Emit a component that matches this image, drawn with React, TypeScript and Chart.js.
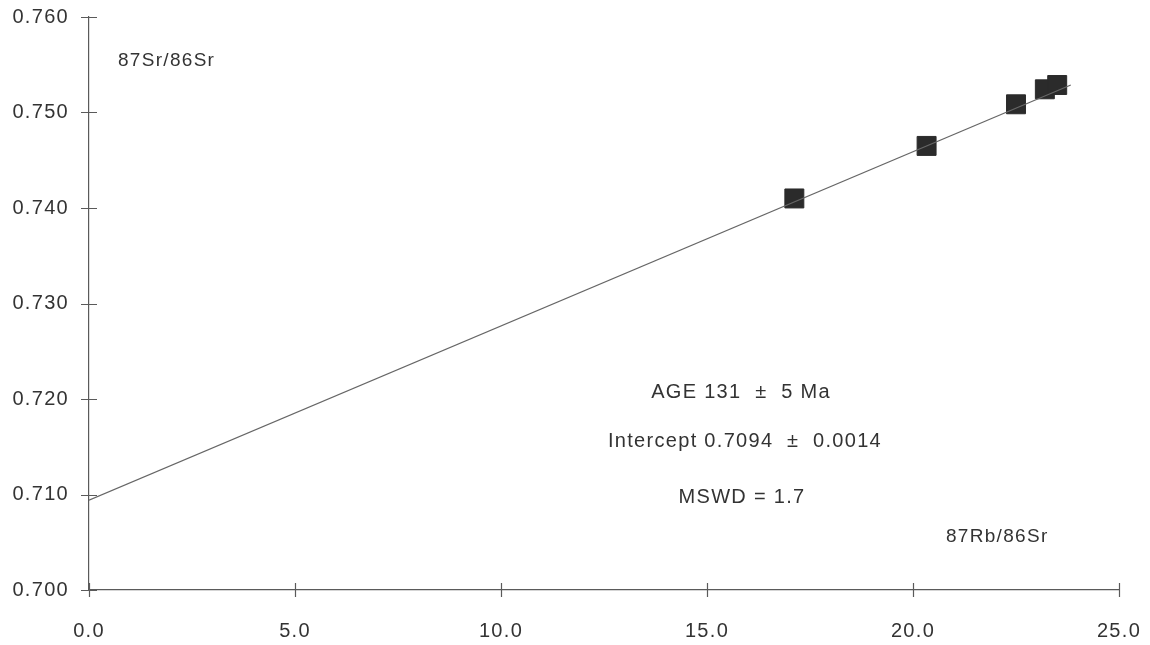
import React, { useEffect, useRef } from "react";
import { Chart, registerables } from "chart.js";

Chart.register(...registerables);

// Rb-Sr isochron samples
const rbSr: number[] = [17.12, 20.33, 22.5, 23.2, 23.5];
const srSr: number[] = [0.741, 0.7465, 0.75086, 0.75243, 0.75288];

// regression line end points
const lineX: number[] = [0, 23.83];
const lineY: number[] = [0.7094, 0.75288];

const xTicks: number[] = [0, 5, 10, 15, 20, 25];
const yTicks: number[] = [0.7, 0.71, 0.72, 0.73, 0.74, 0.75, 0.76];

const ageText = "AGE 131  \u00b1  5 Ma";
const interceptText = "Intercept 0.7094  \u00b1  0.0014";
const mswdText = "MSWD = 1.7";
const yTitle = "87Sr/86Sr";
const xTitle = "87Rb/86Sr";

const FONT = "'Liberation Sans', Arial, Helvetica, sans-serif";
const TEXT = "#333333";
const AXIS = "#5a5a5a";

// wider tracking for all canvas text
const spacing = {
  id: "spacing",
  beforeDraw(chart: any) {
    chart.ctx.letterSpacing = "1.3px";
  },
};

const noScalePadding = (s: any) => {
  s.paddingTop = 0;
  s.paddingBottom = 0;
  s.paddingLeft = 0;
  s.paddingRight = 0;
};

const crossTicks = {
  id: "crossTicks",
  afterDraw(chart: any) {
    const { ctx, chartArea, scales } = chart;
    const xs = scales.x;
    const ys = scales.y;
    ctx.save();
    ctx.strokeStyle = AXIS;
    ctx.lineWidth = 1.2;
    ctx.beginPath();
    xTicks.forEach((v) => {
      const px = Math.round(xs.getPixelForValue(v)) + 0.5;
      ctx.moveTo(px, chartArea.bottom - 7);
      ctx.lineTo(px, chartArea.bottom + 7);
    });
    yTicks.forEach((v) => {
      const py = Math.round(ys.getPixelForValue(v)) + 0.5;
      ctx.moveTo(chartArea.left - 8, py);
      ctx.lineTo(chartArea.left + 8, py);
    });
    ctx.stroke();

    ctx.fillStyle = TEXT;
    ctx.letterSpacing = "1.3px";
    ctx.textBaseline = "middle";
    ctx.textAlign = "left";
    ctx.font = `19px ${FONT}`;
    ctx.fillText(yTitle, 118, 61);
    ctx.fillText(xTitle, 946, 537);
    ctx.font = `20px ${FONT}`;
    ctx.textAlign = "center";
    ctx.fillText(ageText, 741, 392);
    ctx.fillText(interceptText, 745, 441);
    ctx.fillText(mswdText, 742, 497);
    ctx.restore();
  },
};

export default function App() {
  const ref = useRef<HTMLCanvasElement | null>(null);

  useEffect(() => {
    document.body.style.margin = "0";
    document.body.style.background = "#ffffff";
    if (!ref.current) return;
    const chart = new Chart(ref.current, {
      type: "scatter",
      data: {
        datasets: [
          {
            type: "line",
            data: lineX.map((x, i) => ({ x, y: lineY[i] })),
            borderColor: "#666666",
            borderWidth: 1.2,
            pointRadius: 0,
            fill: false,
          },
          {
            data: rbSr.map((x, i) => ({ x, y: srSr[i] })),
            pointStyle: "rect",
            pointRadius: 13.4,
            pointBorderWidth: 1,
            backgroundColor: "#2b2b2b",
            borderColor: "#2b2b2b",
          },
        ],
      },
      plugins: [spacing, crossTicks],
      options: {
        animation: false,
        responsive: false,
        events: [],
        layout: { padding: { top: 17, right: 31, left: 0, bottom: 0 } },
        plugins: { legend: { display: false }, tooltip: { enabled: false } },
        scales: {
          x: {
            type: "linear",
            min: 0,
            max: 25,
            afterFit: (s: any) => {
              s.height = 55;
              noScalePadding(s);
            },
            afterBuildTicks: (s: any) => {
              s.ticks = xTicks.map((v) => ({ value: v }));
            },
            grid: { display: false, drawTicks: false },
            border: { display: true, color: AXIS, width: 1.2 },
            ticks: {
              color: TEXT,
              font: { family: FONT, size: 20 },
              padding: 29,
              maxRotation: 0,
              callback: (v: any) => Number(v).toFixed(1),
            },
          },
          y: {
            type: "linear",
            min: 0.7,
            max: 0.76,
            afterFit: (s: any) => {
              s.width = 89;
              noScalePadding(s);
            },
            afterBuildTicks: (s: any) => {
              s.ticks = yTicks.map((v) => ({ value: v }));
            },
            grid: { display: false, drawTicks: false },
            border: { display: true, color: AXIS, width: 1.2 },
            ticks: {
              color: TEXT,
              font: { family: FONT, size: 20 },
              padding: 20,
              callback: (v: any) => Number(v).toFixed(3),
            },
          },
        },
      },
    });
    return () => chart.destroy();
  }, []);

  return (
    <div style={{ width: 1150, height: 645 }}>
      <canvas ref={ref} width={1150} height={645} />
    </div>
  );
}
